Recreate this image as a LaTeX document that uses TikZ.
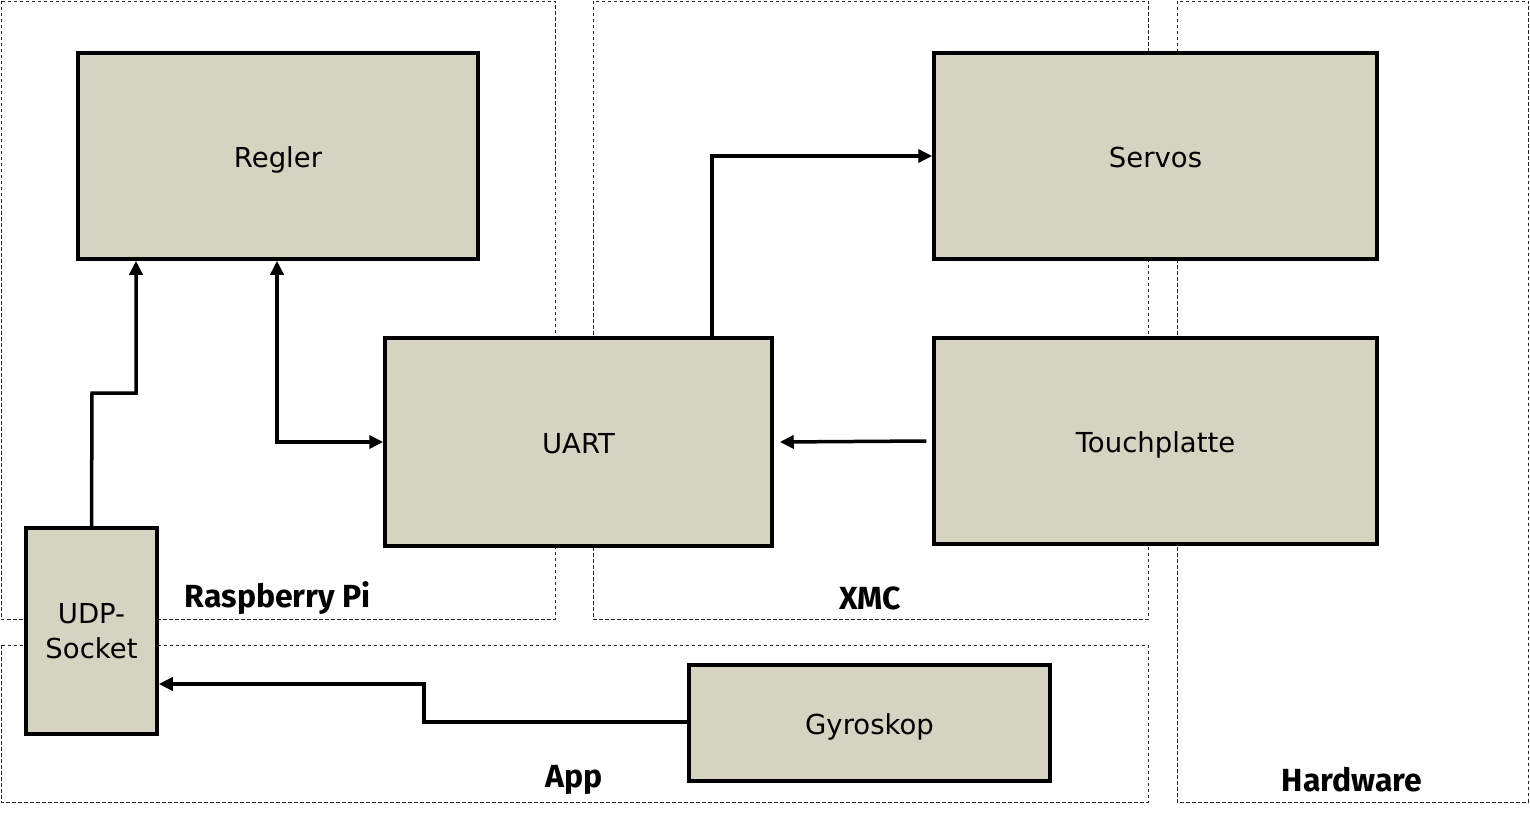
\documentclass[tikz,border=0pt]{standalone}
\usepackage{fontspec}
\setmainfont{DejaVu Sans}
\newfontfamily\lblfont{Fira Sans}
\usetikzlibrary{arrows.meta}
\definecolor{boxfill}{RGB}{213,211,193}
\tikzset{
  region/.style={draw=black!85, dashed, dash pattern=on 3.5pt off 2.5pt, line width=0.8pt},
  block/.style={draw=black, fill=boxfill, line width=3.5pt, inner sep=0pt, align=center,
    font=\fontsize{27.5}{35}\selectfont},
  oneline/.style={text height=23pt, text depth=0pt},
  conn/.style={line width=3.5pt, -{Triangle[length=14pt,width=13pt]}},
  dconn/.style={line width=3.5pt, {Triangle[length=14pt,width=13pt]}-{Triangle[length=14pt,width=13pt]}},
  lbl/.style={font=\lblfont\bfseries\fontsize{32}{36}\selectfont, inner sep=0pt}
}
\begin{document}
\begin{tikzpicture}[x=1pt,y=-1pt]
\useasboundingbox (0,0) rectangle (1530,813);
% regions
\draw[region] (1,1) rectangle (555,619);
\draw[region] (593,1) rectangle (1148,619);
\draw[region] (1177,1) rectangle (1528,802);
\draw[region] (1,645) rectangle (1148,802);
\node[lbl] (lrpi) at (278,598) {Raspberry Pi};
\node[lbl] (lxmc) at (870,598) {XMC};
\node[lbl] (lapp) at (574,780) {App};
\node[lbl] (lhw) at (1352,780) {Hardware};
% blocks
\node[block, oneline, minimum width=400pt, minimum height=206pt] (regler) at (278,156) {Regler};
\node[block, oneline, minimum width=443pt, minimum height=206pt] (servos) at (1155.5,156) {Servos};
\node[block, oneline, minimum width=387pt, minimum height=208pt] (uart) at (578.5,442) {UART};
\node[block, oneline, minimum width=443pt, minimum height=206pt] (touch) at (1155.5,441) {Touchplatte};
\node[block, minimum width=131pt, minimum height=206pt] (udp) at (91.5,631) {UDP-\\Socket};
\node[block, oneline, minimum width=361pt, minimum height=116pt] (gyro) at (869.5,723) {Gyroskop};
% connectors
\coordinate (c1) at (92,393);
\coordinate (c2) at (136,393);
\draw[conn] (udp.north) -- (c1) -- (c2) -- (c2 |- regler.south);
\coordinate (c3) at (277,442);
\draw[dconn] (regler.south -| c3) -- (c3) -- (uart.west |- c3);
\coordinate (c4) at (712,156);
\draw[conn] (uart.north -| c4) -- (c4) -- (servos.west |- c4);
\coordinate (t1) at ([xshift=-6pt]touch.west);
\coordinate (t2) at ([xshift=6pt]uart.east);
\draw[conn] (t1) -- (t2);
\coordinate (g1) at (424,722);
\coordinate (g2) at (424,684);
\draw[conn] (gyro.west |- g1) -- (g1) -- (g2) -- (udp.east |- g2);
\end{tikzpicture}
\end{document}
